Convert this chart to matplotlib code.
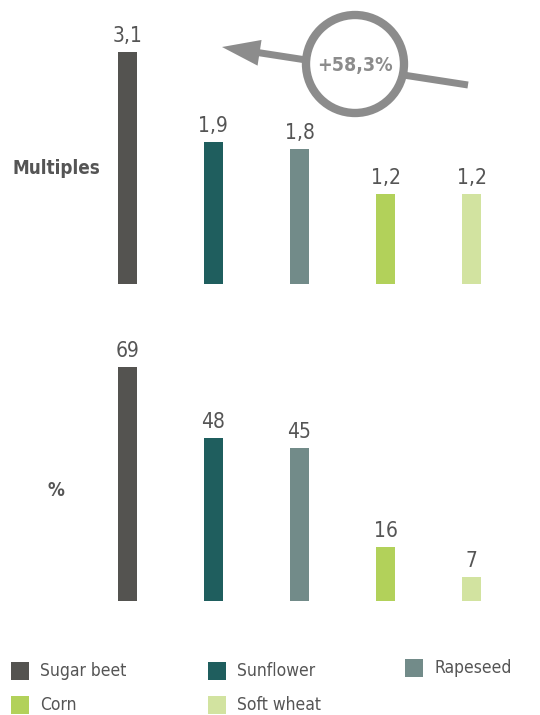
import matplotlib
matplotlib.use("Agg")
import matplotlib.pyplot as plt
from matplotlib.patches import Circle, FancyArrow

crops = ["Sugar beet", "Sunflower", "Rapeseed", "Corn", "Soft wheat"]
colors = ["#545350", "#1f5e5e", "#728b89", "#b2d15a", "#d2e3a0"]
multiples = [3.1, 1.9, 1.8, 1.2, 1.2]
percents = [69, 48, 45, 16, 7]
growth_label = "+58,3%"

TEXT = "#555555"
plt.rcParams["font.family"] = ["DejaVu Sans"]
plt.rcParams["font.stretch"] = "condensed"

W, H = 540, 715
fig = plt.figure(figsize=(W / 100, H / 100), dpi=100)


def px_axes(left, top, right, bottom):
    return fig.add_axes([left / W, 1 - bottom / H, (right - left) / W, (bottom - top) / H])


def bar_panel(ax, values, fmt, ymax):
    xs = range(len(values))
    ax.bar(xs, values, width=0.22, color=colors)
    for x, v in zip(xs, values):
        ax.annotate(fmt(v), (x, v), xytext=(0, 4.5), textcoords="offset points",
                    ha="center", va="bottom", fontsize=15, color=TEXT)
    ax.set_xlim(-0.5, len(values) - 0.5)
    ax.set_ylim(0, ymax)
    ax.axis("off")


top = px_axes(84, 20, 515, 284)
bar_panel(top, multiples, lambda v: f"{v:.1f}".replace(".", ","), 264 / 74.8)

bottom = px_axes(84, 330, 515, 601)
bar_panel(bottom, percents, lambda v: f"{v:d}", 271 / 3.39)

# overlay in pixel coordinates for labels, callout and legend
over = fig.add_axes([0, 0, 1, 1])
over.set_xlim(0, W)
over.set_ylim(H, 0)
over.axis("off")

over.text(12, 169, "Multiples", fontsize=13.5, fontweight="bold", color=TEXT,
          ha="left", va="center")
over.text(48, 490, "%", fontsize=13.5, fontweight="bold", color=TEXT,
          ha="left", va="center")

# growth callout: arrow passing behind a ring
grey = "#8c8c8c"
over.add_patch(FancyArrow(468, 85, 222 - 468, 47 - 85, width=7, head_width=26,
                          head_length=38, length_includes_head=True,
                          facecolor=grey, edgecolor="none", zorder=2))
over.add_patch(Circle((355, 64), 49, facecolor="white", edgecolor=grey, lw=6, zorder=3))
over.text(355, 66, growth_label, fontsize=14, fontweight="bold", color=grey,
          ha="center", va="center", zorder=4)

# legend
legend_pos = [(11, 662), (208, 662), (405, 659), (11, 696), (208, 696)]
for (lx, ly), name, c in zip(legend_pos, crops, colors):
    over.add_patch(plt.Rectangle((lx, ly), 18, 18, facecolor=c, edgecolor="none"))
    over.text(lx + 29, ly + 9, name, fontsize=12.5, color=TEXT, ha="left", va="center")

fig.savefig("out.png", dpi=100)
